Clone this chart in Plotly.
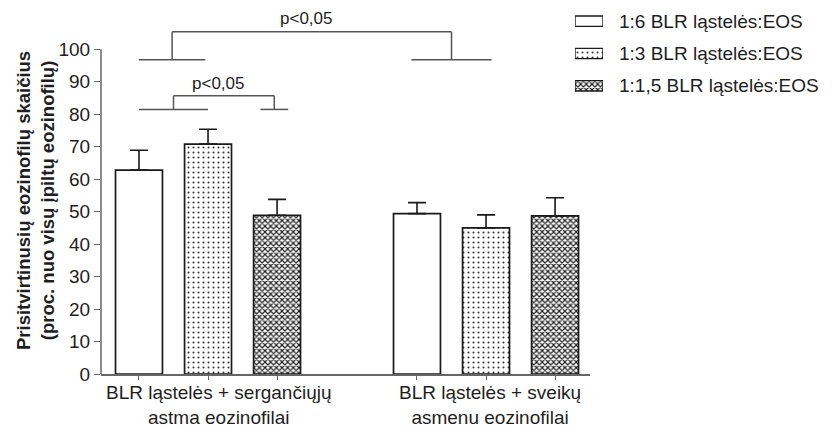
import plotly.graph_objects as go

# ---------------- data ----------------
groups = ["BLR ląstelės + sergančiųjų<br>astma eozinofilai",
          "BLR ląstelės + sveikų<br>asmenu eozinofilai"]
series_names = ["1:6 BLR ląstelės:EOS", "1:3 BLR ląstelės:EOS", "1:1,5 BLR ląstelės:EOS"]
mean_1_6 = [62.8, 49.4]
mean_1_3 = [70.8, 45.0]
mean_1_15 = [48.9, 48.7]
err_1_6 = [6.1, 3.4]
err_1_3 = [4.6, 4.0]
err_1_15 = [4.9, 5.6]
y_ticks = [0, 10, 20, 30, 40, 50, 60, 70, 80, 90, 100]
sig_label = "p<0,05"

means = [mean_1_6, mean_1_3, mean_1_15]
errs = [err_1_6, err_1_3, err_1_15]

# ---------------- style ----------------
FONT = "Liberation Sans, Arial, sans-serif"
TXT = "#1e1e1e"
W, H = 832, 429
ML, MR, MT, MB = 101, 10, 0, 55
PW = W - ML - MR
PH = H - MT - MB
main_w = 489
dom_main = main_w / PW
BARGAP, BARGROUPGAP = 0.255, 0.32
n = len(series_names)
slot = (1 - BARGAP) / n

def centre(g, k):
    return g + (k - (n - 1) / 2) * slot

def py(p):  # pixel row -> paper y
    return (H - MB - p) / PH

patterns = [
    dict(shape="", bgcolor="white"),
    dict(shape=".", size=5, solidity=0.13, fgcolor="#333333", bgcolor="white", fillmode="replace"),
    dict(shape="x", size=4, solidity=0.5, fgcolor="#222222", bgcolor="white", fillmode="replace"),
]

fig = go.Figure()
for k in range(n):
    fig.add_trace(go.Bar(
        x=groups, y=means[k], name=series_names[k], showlegend=False,
        marker=dict(color="white", line=dict(color="#1a1a1a", width=1.7), pattern=patterns[k]),
        error_y=dict(type="data", array=errs[k], arrayminus=[0] * len(groups), symmetric=False,
                     color="#1a1a1a", thickness=1.6, width=9),
        xaxis="x", yaxis="y",
    ))

# tick marks under every bar (secondary numeric axis sharing the same scale)
centres = [centre(g, k) for g in range(len(groups)) for k in range(n)]
fig.add_trace(go.Scatter(x=centres, y=[0] * len(centres), mode="markers",
                         marker=dict(opacity=0), xaxis="x2", yaxis="y",
                         showlegend=False, hoverinfo="skip"))

# custom legend swatches (patterned bars in a mini axis)
fig.add_trace(go.Bar(
    x=[1] * n, y=list(range(n)), orientation="h", width=0.32, showlegend=False,
    marker=dict(color="white", line=dict(color="#1a1a1a", width=1.4),
                pattern=dict(shape=[p["shape"] for p in patterns], size=[5, 5, 4],
                             solidity=[0.1, 0.13, 0.5],
                             fgcolor=["#333333", "#333333", "#222222"], bgcolor="white",
                             fillmode="replace")),
    xaxis="x3", yaxis="y3", hoverinfo="skip",
))
for k, nm in enumerate(series_names):
    fig.add_annotation(text=nm, xref="paper", yref="y3", x=(617 - ML) / PW, y=k,
                       xanchor="left", yanchor="middle", showarrow=False,
                       font=dict(family=FONT, size=19, color=TXT))

# category labels
label_shift = [11, 4]
for g, lab in enumerate(groups):
    fig.add_annotation(text=lab, xref="x", yref="paper", x=g, y=py(429),
                       xanchor="center", yanchor="bottom", xshift=label_shift[g],
                       borderpad=0, showarrow=False,
                       font=dict(family=FONT, size=19, color=TXT))

XR = [-0.385, 1.374]
YTOP = 115.2
LINEC = "#666666"
BRC = "#555555"

# significance brackets
def bracket(xl0, xl1, xr0, xr1, y_arm, y_top, label, ly):
    xa = (xl0 + xl1) / 2
    xb = (xr0 + xr1) / 2
    for (x0, y0, x1, y1) in [(xl0, y_arm, xl1, y_arm), (xr0, y_arm, xr1, y_arm),
                             (xa, y_arm, xa, y_top), (xb, y_arm, xb, y_top), (xa, y_top, xb, y_top)]:
        fig.add_shape(type="line", xref="x", yref="y", x0=x0, y0=y0, x1=x1, y1=y1,
                      line=dict(color=BRC, width=1.5))
    fig.add_annotation(text=label, xref="x", yref="y", x=(xa + xb) / 2 - 0.02, y=ly,
                       showarrow=False, font=dict(family=FONT, size=17, color=TXT))

bracket(centre(0, 0), centre(0, 1) - 0.01, centre(1, 0) - 0.02, centre(1, 1) + 0.02,
        96.8, 105.4, sig_label, 109.4)
bracket(centre(0, 0), centre(0, 1), centre(0, 2) - 0.06, centre(0, 2) + 0.04,
        81.5, 85.7, sig_label, 89.6)

# y axis line only between 0 and 100
fig.add_shape(type="line", xref="paper", yref="paper", x0=0, x1=0, y0=0, y1=100 / YTOP,
              line=dict(color=LINEC, width=1.5))

fig.add_annotation(text="<b>Prisitvirtinusių eozinofilų skaičius<br>(proc. nuo visų įpiltų eozinofilų)</b>",
                   textangle=-90, xref="paper", yref="paper",
                   x=(36 - ML) / PW, y=py(201),
                   xanchor="center", yanchor="middle", showarrow=False,
                   font=dict(family=FONT, size=18.5, color=TXT))

fig.update_layout(
    width=W, height=H, margin=dict(l=ML, r=MR, t=MT, b=MB),
    paper_bgcolor="white", plot_bgcolor="white",
    barmode="group", bargap=BARGAP, bargroupgap=BARGROUPGAP,
    showlegend=False,
    font=dict(family=FONT, color=TXT),
    xaxis=dict(domain=[0, dom_main], range=XR, showline=True, linecolor=LINEC, linewidth=1.5,
               ticks="", showgrid=False, zeroline=False, showticklabels=False),
    xaxis2=dict(overlaying="x", anchor="y", side="bottom", range=XR, tickvals=centres,
                ticks="outside", ticklen=5, tickcolor=LINEC, tickwidth=1.3,
                showticklabels=False, showgrid=False, zeroline=False, showline=False),
    yaxis=dict(domain=[0, 1], range=[0, YTOP], tickvals=y_ticks, ticks="outside", ticklen=6,
               tickcolor=LINEC, tickwidth=1.3, showline=False, showgrid=False, zeroline=False,
               tickfont=dict(family=FONT, size=19, color=TXT)),
    xaxis3=dict(domain=[(575 - ML) / PW, (603 - ML) / PW], anchor="y3",
                range=[0, 1], visible=False),
    yaxis3=dict(domain=[py(102), py(5)], anchor="x3",
                range=[2.5, -0.5], visible=False),
)

fig.write_html("out.html", config={"displayModeBar": False},
               post_script="document.body.style.margin='0px';document.body.style.overflow='hidden';")
